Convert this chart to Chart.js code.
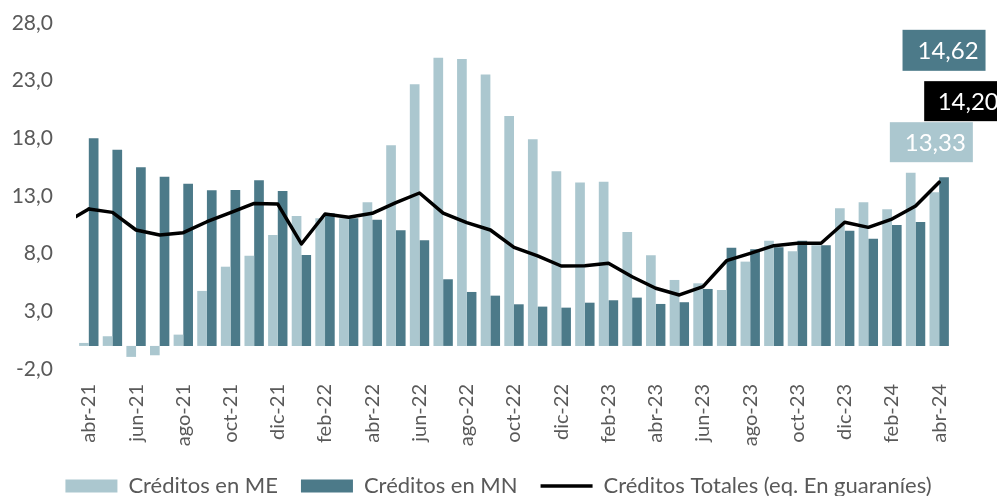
<!DOCTYPE html>
<html>
<head>
<meta charset="utf-8">
<script src="https://cdn.jsdelivr.net/npm/chart.js@4.4.1/dist/chart.umd.min.js"></script>
<style>
  html, body { margin: 0; padding: 0; background: #ffffff; }
  #wrap { width: 997px; height: 496px; position: relative; }
</style>
</head>
<body>
<div id="wrap"><canvas id="c" width="997" height="496"></canvas></div>
<script>
const categories = ['abr-21','may-21','jun-21','jul-21','ago-21','sep-21','oct-21','nov-21','dic-21',
  'ene-22','feb-22','mar-22','abr-22','may-22','jun-22','jul-22','ago-22','sep-22','oct-22','nov-22','dic-22',
  'ene-23','feb-23','mar-23','abr-23','may-23','jun-23','jul-23','ago-23','sep-23','oct-23','nov-23','dic-23',
  'ene-24','feb-24','mar-24','abr-24'];
const creditosME = [0.26, 0.84, -0.95, -0.81, 0.98, 4.77, 6.87, 7.83, 9.62,
  11.27, 11.06, 11.06, 12.45, 17.39, 22.7, 24.98, 24.87, 23.54, 19.93, 17.91, 15.14,
  14.18, 14.24, 9.88, 7.86, 5.72, 5.43, 4.85, 7.31, 9.13, 8.2, 8.72, 11.93,
  12.45, 11.85, 15.02, 13.33];
const creditosMN = [18.0, 17.0, 15.5, 14.67, 14.07, 13.49, 13.52, 14.36, 13.43,
  7.89, 11.5, 11.06, 10.95, 10.03, 9.16, 5.78, 4.68, 4.36, 3.61, 3.41, 3.32,
  3.75, 3.96, 4.19, 3.64, 3.79, 4.94, 8.52, 8.38, 8.55, 9.13, 8.72, 9.99,
  9.3, 10.49, 10.75, 14.62];
const creditosTotales = [11.87, 11.58, 10.05, 9.62, 9.82, 10.77, 11.55, 12.36, 12.3,
  8.84, 11.44, 11.15, 11.5, 12.42, 13.26, 11.52, 10.69, 10.05, 8.55, 7.8, 6.93,
  6.96, 7.17, 6.0, 5.0, 4.42, 5.14, 7.39, 8.03, 8.69, 8.9, 8.9, 10.72,
  10.28, 11.0, 12.13, 14.2];
const creditosTotalesPrev = 10.67; // mar-21, only its segment into the plot is visible
const yTicks = [-2, 3, 8, 13, 18, 23, 28];
const seriesNames = ['Créditos en ME', 'Créditos en MN', 'Créditos Totales (eq. En guaraníes)'];

const COL_ME = '#abc7cf';
const COL_MN = '#4c7a89';
const COL_TOT = '#000000';
const TXT = '#595959';
const FONT = 'Lato, "Open Sans", sans-serif';
const fmt = v => v.toFixed(2).replace('.', ',');

const lastLabels = {
  id: 'lastLabels',
  afterDatasetsDraw(chart) {
    const ctx = chart.ctx;
    const last = categories.length - 1;
    // leading segment of the total line coming from the previous month
    const meta = chart.getDatasetMeta(0);
    const p0 = meta.data[0], p1 = meta.data[1];
    const step = p1.x - p0.x;
    const yPrev = chart.scales.y.getPixelForValue(creditosTotalesPrev);
    const a = chart.chartArea;
    ctx.save();
    ctx.beginPath();
    ctx.rect(a.left - 1, a.top, a.right - a.left + 2, a.bottom - a.top);
    ctx.clip();
    ctx.beginPath();
    ctx.moveTo(p0.x - step, yPrev);
    ctx.lineTo(p0.x, p0.y);
    ctx.strokeStyle = COL_TOT;
    ctx.lineWidth = 3.5;
    ctx.lineCap = 'round';
    ctx.stroke();
    ctx.restore();

    const specs = [
      { ds: 2, bg: COL_MN, dx: 0, dy: -127, w: 83, h: 41, val: creditosMN[last] },
      { ds: 0, bg: COL_TOT, dx: 25, dy: -81, w: 80, h: 40, val: creditosTotales[last] },
      { ds: 1, bg: COL_ME, dx: -3, dy: -50, w: 83, h: 40, val: creditosME[last] }
    ];
    ctx.save();
    specs.forEach(s => {
      const el = chart.getDatasetMeta(s.ds).data[last];
      const cx = el.x + s.dx, cy = el.y + s.dy;
      ctx.fillStyle = s.bg;
      ctx.fillRect(cx - s.w / 2, cy - s.h / 2, s.w, s.h);
      ctx.fillStyle = '#ffffff';
      ctx.font = '24px ' + FONT;
      ctx.textAlign = 'center';
      ctx.textBaseline = 'middle';
      ctx.fillText(fmt(s.val), cx + 4, cy + 1);
    });
    ctx.restore();
  }
};

const legendHeightFix = {
  id: 'legendHeightFix',
  beforeLayout(chart) {
    const lg = chart.legend;
    if (lg && !lg._fitPatched) {
      const orig = lg.fit.bind(lg);
      lg.fit = function() { orig(); this.height = 44; };
      lg._fitPatched = true;
    }
  }
};

new Chart(document.getElementById('c'), {
  data: {
    labels: categories,
    datasets: [
      { type: 'line', label: seriesNames[2], data: creditosTotales, borderColor: COL_TOT, backgroundColor: COL_TOT,
        borderWidth: 3.5, pointRadius: 0, tension: 0, borderJoinStyle: 'round', borderCapStyle: 'round',
        pointStyle: 'line', order: 0 },
      { type: 'bar', label: seriesNames[0], data: creditosME, backgroundColor: COL_ME, borderWidth: 0,
        categoryPercentage: 0.82, barPercentage: 1.0, pointStyle: 'rect', order: 1 },
      { type: 'bar', label: seriesNames[1], data: creditosMN, backgroundColor: COL_MN, borderWidth: 0,
        categoryPercentage: 0.82, barPercentage: 1.0, pointStyle: 'rect', order: 2 }
    ]
  },
  options: {
    responsive: false,
    animation: false,
    layout: { padding: { left: 0, right: 0, top: 23, bottom: 0 } },
    plugins: {
      tooltip: { enabled: false },
      legend: {
        position: 'bottom',
        labels: {
          usePointStyle: true,
          pointStyleWidth: 52,
          boxHeight: 13,
          padding: 23,
          color: TXT,
          font: { family: FONT, size: 22 },
          sort: (a, b) => a.datasetIndex === 0 ? 1 : (b.datasetIndex === 0 ? -1 : a.datasetIndex - b.datasetIndex)
        }
      }
    },
    scales: {
      x: {
        afterFit: s => { s.height = 83; s.paddingLeft = 0; s.paddingRight = 0; },
        grid: { display: false, drawTicks: false },
        border: { display: false },
        ticks: {
          autoSkip: false, maxRotation: 90, minRotation: 90, padding: 15,
          color: TXT, font: { family: FONT, size: 20 },
          callback: function(v, i) { return i % 2 === 0 ? categories[i] : ''; }
        }
      },
      y: {
        min: -2, max: 28,
        afterFit: s => { s.width = 77; s.paddingTop = 0; s.paddingBottom = 0; },
        afterBuildTicks: s => { s.ticks = yTicks.map(v => ({ value: v })); },
        grid: {
          drawTicks: false,
          color: c => (c.tick && c.tick.value === 0) ? '#d9d9d9' : 'rgba(0,0,0,0)',
          lineWidth: 2
        },
        border: { display: false },
        ticks: {
          padding: 24, color: TXT, font: { family: FONT, size: 21 },
          callback: v => v.toFixed(1).replace('.', ',')
        }
      },
      yRight: {
        position: 'right',
        display: true,
        afterFit: s => { s.width = 46; s.paddingTop = 0; s.paddingBottom = 0; },
        grid: { display: false, drawTicks: false },
        border: { display: false },
        ticks: { display: false }
      }
    }
  },
  plugins: [lastLabels, legendHeightFix]
});
</script>
</body>
</html>
